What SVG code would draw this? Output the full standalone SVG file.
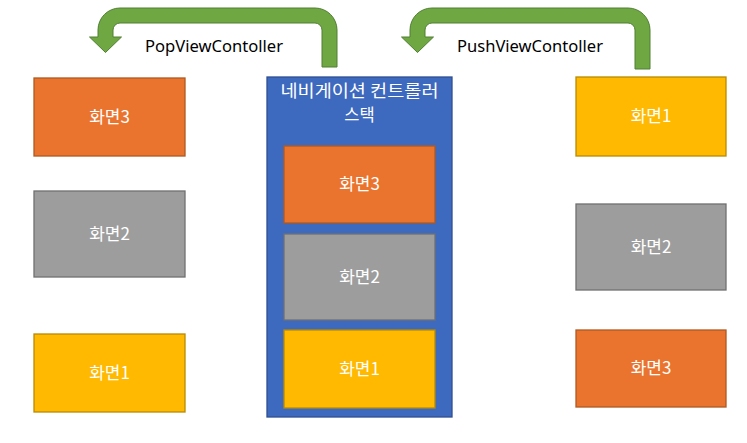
<svg xmlns="http://www.w3.org/2000/svg" width="747" height="443" viewBox="0 0 747 443">
<style>
.orange{fill:#EA742E;stroke:#AE5A21;stroke-width:1.3}
.gray{fill:#9D9D9D;stroke:#707070;stroke-width:1.3}
.yellow{fill:#FFB900;stroke:#B88A00;stroke-width:1.3}
.blue{fill:#3D69BF;stroke:#2F4F8F;stroke-width:1.3}
.arrow{fill:#6FA843;stroke:#507E32;stroke-width:1}
.lbl{font-family:"Noto Sans CJK KR","Noto Sans",sans-serif;font-size:17px;fill:#FFFFFF;text-anchor:middle}
.ttl{font-family:"Noto Sans CJK KR","Noto Sans",sans-serif;font-size:16.5px;fill:#FFFFFF;text-anchor:middle}
.cl{font-family:"Noto Sans","Noto Sans CJK KR",sans-serif;font-size:15.5px;fill:#000000}
</style>
<rect width="747" height="443" fill="#FFFFFF"/>
<g id="connectors">
<g id="pop-arrow">
<path class="arrow" d="M322 67 L322 30 A7 7 0 0 0 315 23 L120 23 A7 7 0 0 0 113 30 L113 37 L121.5 37 L105.5 52.5 L89.5 37 L98 37 L98 30 A22 22 0 0 1 120 8 L315 8 A22 22 0 0 1 337 30 L337 67 Z"/>
<text class="cl" x="145" y="52" textLength="138" lengthAdjust="spacingAndGlyphs">PopViewContoller</text>
</g>
<g id="push-arrow">
<path class="arrow" d="M635 69 L635 30 A7 7 0 0 0 628 23 L432 23 A7 7 0 0 0 425 30 L425 37 L433.5 37 L417.5 52.5 L401.5 37 L410 37 L410 30 A22 22 0 0 1 432 8 L628 8 A22 22 0 0 1 650 30 L650 69 Z"/>
<text class="cl" x="457" y="52" textLength="146" lengthAdjust="spacingAndGlyphs">PushViewContoller</text>
</g>
</g>
<g id="left-screen3"><rect class="orange" x="34" y="78" width="151" height="78"/><text class="lbl" x="109.5" y="123">화면3</text></g>
<g id="left-screen2"><rect class="gray" x="34" y="191" width="151" height="86"/><text class="lbl" x="109.5" y="240">화면2</text></g>
<g id="left-screen1"><rect class="yellow" x="34" y="334" width="151" height="78"/><text class="lbl" x="109.5" y="379">화면1</text></g>
<g id="stack">
<rect class="blue" x="267" y="77" width="185" height="340"/>
<text class="ttl" x="359.5" y="97" textLength="158" lengthAdjust="spacingAndGlyphs">네비게이션 컨트롤러</text>
<text class="ttl" x="359.5" y="121">스택</text>
</g>
<g id="stack-screen3"><rect class="orange" x="284" y="146" width="151" height="77"/><text class="lbl" x="359.5" y="190">화면3</text></g>
<g id="stack-screen2"><rect class="gray" x="284" y="234" width="151" height="86"/><text class="lbl" x="359.5" y="283">화면2</text></g>
<g id="stack-screen1"><rect class="yellow" x="284" y="330" width="151" height="78"/><text class="lbl" x="359.5" y="375">화면1</text></g>
<g id="right-screen1"><rect class="yellow" x="576" y="77" width="150" height="79"/><text class="lbl" x="651" y="122">화면1</text></g>
<g id="right-screen2"><rect class="gray" x="576" y="204" width="150" height="86"/><text class="lbl" x="651" y="253">화면2</text></g>
<g id="right-screen3"><rect class="orange" x="576" y="330" width="150" height="77"/><text class="lbl" x="651" y="374">화면3</text></g>
</svg>
